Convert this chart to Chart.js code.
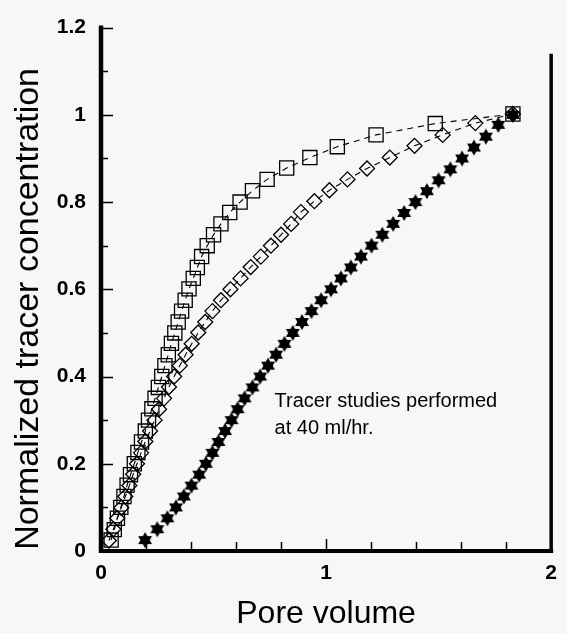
<!DOCTYPE html>
<html>
<head>
<meta charset="utf-8">
<script src="https://cdn.jsdelivr.net/npm/chart.js@4/dist/chart.umd.min.js"></script>
<style>
  html, body { margin: 0; padding: 0; background: #f7f7f7; }
  #wrap { width: 567px; height: 633px; }
</style>
</head>
<body>
<div id="wrap"><canvas id="c" width="567" height="633"></canvas></div>
<script>
// Breakthrough curves: normalized tracer concentration vs pore volume
const squarePV = [0.045,0.059,0.073,0.088,0.102,0.116,0.131,0.148,0.164,0.180,0.197,0.211,0.226,0.240,0.255,0.270,0.284,0.299,0.313,0.328,0.343,0.358,0.374,0.391,0.410,0.428,0.447,0.472,0.500,0.533,0.572,0.618,0.673,0.738,0.825,0.928,1.050,1.222,1.485,1.830];
const squareC  = [0.025,0.049,0.075,0.100,0.125,0.151,0.175,0.200,0.226,0.250,0.275,0.300,0.326,0.350,0.375,0.400,0.425,0.450,0.476,0.500,0.525,0.550,0.575,0.601,0.625,0.650,0.675,0.700,0.725,0.750,0.776,0.800,0.826,0.852,0.878,0.902,0.927,0.954,0.980,1.002];

const diamondPV = [0.035,0.055,0.072,0.090,0.108,0.126,0.143,0.160,0.178,0.197,0.218,0.238,0.258,0.280,0.302,0.325,0.350,0.376,0.403,0.432,0.463,0.495,0.533,0.575,0.620,0.665,0.710,0.755,0.800,0.845,0.888,0.948,1.015,1.095,1.182,1.283,1.393,1.518,1.663,1.830];
const diamondC  = [0.024,0.050,0.075,0.099,0.125,0.150,0.176,0.200,0.225,0.251,0.275,0.300,0.325,0.350,0.376,0.400,0.425,0.450,0.475,0.501,0.525,0.550,0.575,0.600,0.625,0.651,0.675,0.700,0.725,0.750,0.777,0.802,0.827,0.852,0.877,0.902,0.929,0.954,0.981,1.002];

const starPV = [0.196,0.250,0.295,0.333,0.368,0.402,0.436,0.466,0.495,0.522,0.551,0.580,0.607,0.638,0.673,0.707,0.742,0.778,0.815,0.852,0.893,0.935,0.978,1.022,1.066,1.110,1.155,1.202,1.250,1.298,1.347,1.397,1.448,1.500,1.552,1.604,1.657,1.710,1.765,1.830];
const starC  = [0.025,0.050,0.075,0.100,0.125,0.150,0.175,0.200,0.225,0.250,0.275,0.300,0.325,0.350,0.375,0.400,0.425,0.450,0.475,0.500,0.525,0.550,0.575,0.600,0.625,0.650,0.675,0.700,0.725,0.750,0.775,0.800,0.825,0.850,0.875,0.900,0.925,0.950,0.977,1.000];

const xTickLabels = [0, 1, 2];
const yTickLabels = [0, 0.2, 0.4, 0.6, 0.8, 1, 1.2];
const xTitle = 'Pore volume';
const yTitle = 'Normalized tracer concentration';
const noteLines = ['Tracer studies performed', 'at 40 ml/hr.'];

const FONT = '"Liberation Sans", Arial, Helvetica, sans-serif';

// filled six-pointed star marker
function makeHexagram(r) {
  const size = Math.ceil(r * 2 + 2);
  const cv = document.createElement('canvas');
  cv.width = size; cv.height = size;
  const g = cv.getContext('2d');
  const cx = size / 2, cy = size / 2;
  g.fillStyle = '#000';
  for (const start of [-Math.PI / 2, Math.PI / 2]) {
    g.beginPath();
    for (let i = 0; i < 3; i++) {
      const a = start + i * 2 * Math.PI / 3;
      const px = cx + r * Math.cos(a), py = cy + r * Math.sin(a);
      if (i === 0) g.moveTo(px, py); else g.lineTo(px, py);
    }
    g.closePath();
    g.fill();
  }
  return cv;
}
const starMarker = makeHexagram(8);

const pts = (xs, ys) => xs.map((x, i) => ({ x, y: ys[i] }));

// axis frame, inward tick marks, rotated y title and the note
const framePlugin = {
  id: 'frame',
  beforeDatasetsDraw(chart) {
    const { ctx, chartArea: a, scales: { x, y } } = chart;
    ctx.save();
    ctx.strokeStyle = '#000';
    ctx.lineCap = 'butt';
    // left axis
    ctx.lineWidth = 4.5;
    ctx.beginPath(); ctx.moveTo(a.left, a.top - 2); ctx.lineTo(a.left, a.bottom + 2); ctx.stroke();
    // bottom axis
    ctx.lineWidth = 4;
    ctx.beginPath(); ctx.moveTo(a.left - 2, a.bottom); ctx.lineTo(a.right + 2, a.bottom); ctx.stroke();
    // right border
    ctx.lineWidth = 3.5;
    ctx.beginPath(); ctx.moveTo(a.right, y.getPixelForValue(1.14)); ctx.lineTo(a.right, a.bottom + 2); ctx.stroke();
    // y ticks every 0.1
    ctx.lineWidth = 1.5;
    for (let k = 1; k <= 12; k++) {
      const py = Math.round(y.getPixelForValue(k / 10)) + 0.5;
      const len = k % 2 === 0 ? 10 : 5;
      ctx.beginPath(); ctx.moveTo(a.left, py); ctx.lineTo(a.left + 2 + len, py); ctx.stroke();
    }
    // x ticks every 0.2
    for (let k = 1; k < 10; k++) {
      const px = Math.round(x.getPixelForValue(k / 5)) + 0.5;
      const len = k === 5 ? 10 : 7;
      ctx.beginPath(); ctx.moveTo(px, a.bottom); ctx.lineTo(px, a.bottom - 2 - len); ctx.stroke();
    }
    ctx.restore();
  },
  afterDraw(chart) {
    const { ctx, scales: { x, y } } = chart;
    ctx.save();
    ctx.fillStyle = '#000';
    // y title
    ctx.save();
    ctx.translate(29, y.getPixelForValue(0.555));
    ctx.rotate(-Math.PI / 2);
    ctx.font = '34px ' + FONT;
    ctx.textAlign = 'center';
    ctx.textBaseline = 'middle';
    ctx.fillText(yTitle, 0, 0);
    ctx.restore();
    // note
    ctx.font = '20px ' + FONT;
    ctx.textAlign = 'left';
    ctx.textBaseline = 'middle';
    const px = x.getPixelForValue(0.771);
    ctx.fillText(noteLines[0], px, y.getPixelForValue(0.343));
    ctx.fillText(noteLines[1], px, y.getPixelForValue(0.281));
    ctx.restore();
  }
};

new Chart(document.getElementById('c'), {
  type: 'scatter',
  data: {
    datasets: [
      {
        label: 'squares',
        data: pts(squarePV, squareC),
        showLine: true,
        borderColor: '#000',
        borderWidth: 1.1,
        borderDash: [6, 5],
        pointStyle: 'rect',
        pointRadius: 10,
        pointBorderWidth: 1.3,
        pointBorderColor: '#000',
        pointBackgroundColor: 'rgba(0,0,0,0)'
      },
      {
        label: 'diamonds',
        data: pts(diamondPV, diamondC),
        showLine: true,
        borderColor: '#000',
        borderWidth: 1.1,
        borderDash: [6, 5],
        pointStyle: 'rectRot',
        pointRadius: 7.5,
        pointBorderWidth: 1.3,
        pointBorderColor: '#000',
        pointBackgroundColor: 'rgba(0,0,0,0)'
      },
      {
        label: 'stars',
        data: pts(starPV, starC),
        showLine: false,
        pointStyle: starMarker,
        pointRadius: 8
      }
    ]
  },
  options: {
    responsive: false,
    devicePixelRatio: 1,
    animation: false,
    events: [],
    layout: { padding: { top: 19.5, right: 7, bottom: 0, left: 0 } },
    plugins: { legend: { display: false }, tooltip: { enabled: false } },
    scales: {
      x: {
        type: 'linear',
        min: 0, max: 2,
        grid: { display: false, drawTicks: false },
        border: { display: false },
        afterFit: (s) => { s.height = 82; },
        afterBuildTicks: (s) => { s.ticks = xTickLabels.map(v => ({ value: v })); },
        ticks: {
          padding: 10,
          color: '#000',
          font: { family: FONT, size: 21, weight: 'bold' },
          callback: (v) => String(v)
        },
        title: {
          display: true,
          text: xTitle,
          color: '#000',
          font: { family: FONT, size: 32 },
          padding: { top: 0, bottom: 0 }
        }
      },
      y: {
        type: 'linear',
        min: 0, max: 1.2,
        grid: { display: false, drawTicks: false },
        border: { display: false },
        afterFit: (s) => { s.width = 101; },
        afterBuildTicks: (s) => { s.ticks = yTickLabels.map(v => ({ value: v })); },
        ticks: {
          padding: 15,
          color: '#000',
          font: { family: FONT, size: 21, weight: 'bold' },
          callback: (v) => String(Number(v.toFixed(1)))
        }
      }
    }
  },
  plugins: [framePlugin]
});
</script>
</body>
</html>
